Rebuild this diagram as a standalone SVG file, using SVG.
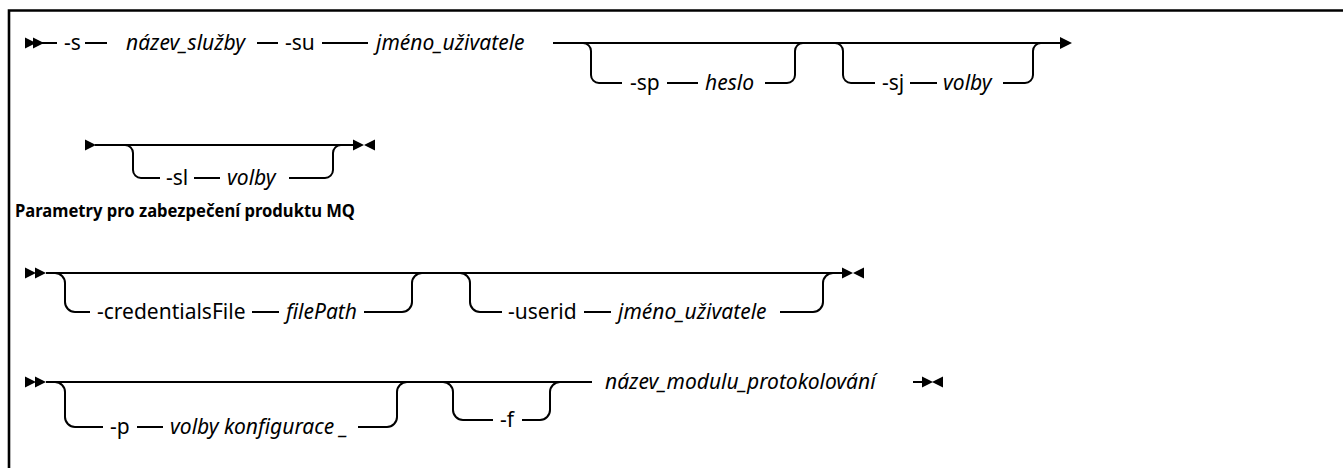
<svg xmlns="http://www.w3.org/2000/svg" width="1343" height="468" viewBox="0 0 1343 468">
<style>
.ln{stroke:#000;stroke-width:2;fill:none}
.bd{stroke:#000;stroke-width:2.6;fill:none}
.ah{fill:#000;stroke:none}
text{font-family:"Noto Sans","Liberation Sans",sans-serif;font-size:21px;fill:#000}
.i{font-style:italic}
.b{font-weight:bold;font-size:18px}
</style>
<defs>
<path id="tr" d="M0 -6 L12 0 L0 6 Z"/>
<path id="tl" d="M12 -6 L0 0 L12 6 Z"/>
<path id="ts" d="M0 -5.5 L11 0 L0 5.5 Z"/>
<path id="tsl" d="M11 -5.5 L0 0 L11 5.5 Z"/>
</defs>
<rect width="1343" height="468" fill="#fff"/>
<path class="bd" d="M9 468 V10.5 H1343"/>
<g id="connectors">
<!-- row 1 -->
<use href="#ts" class="ah" x="25" y="43"/>
<use href="#ts" class="ah" x="33" y="43"/>
<path class="ln" d="M42 43 H57 M85 43 H107 M257 43 H278 M322 43 H368 M553 43 H1060"/>
<path class="ln" d="M583 43 A8 8 0 0 1 591 51 V75 A8 8 0 0 0 599 83 H622 M667 83 H698 M765 83 H787 A8 8 0 0 0 795 75 V51 A8 8 0 0 1 803 43"/>
<path class="ln" d="M835 43 A8 8 0 0 1 843 51 V75 A8 8 0 0 0 851 83 H875 M910 83 H937 M1003 83 H1025 A8 8 0 0 0 1033 75 V51 A8 8 0 0 1 1041 43"/>
<use href="#tr" class="ah" x="1060" y="43"/>
<!-- row 2 -->
<use href="#ts" class="ah" x="85" y="145"/>
<path class="ln" d="M95 145 H353"/>
<path class="ln" d="M125 145 A8 8 0 0 1 133 153 V170 A8 8 0 0 0 141 178 H160 M194 178 H220 M289 178 H325 A8 8 0 0 0 333 170 V153 A8 8 0 0 1 341 145"/>
<use href="#ts" class="ah" x="353" y="145"/>
<use href="#tsl" class="ah" x="364" y="145"/>
<!-- row 3 -->
<use href="#ts" class="ah" x="25" y="273"/>
<use href="#ts" class="ah" x="35" y="273"/>
<path class="ln" d="M46 273 H842"/>
<path class="ln" d="M55 273 A10 10 0 0 1 65 283 V302 A10 10 0 0 0 75 312 H90 M252 312 H279 M364 312 H402 A10 10 0 0 0 412 302 V283 A10 10 0 0 1 422 273"/>
<path class="ln" d="M460 273 A10 10 0 0 1 470 283 V302 A10 10 0 0 0 480 312 H502 M584 312 H611 M780 312 H813 A10 10 0 0 0 823 302 V283 A10 10 0 0 1 833 273"/>
<use href="#ts" class="ah" x="842" y="273"/>
<use href="#tsl" class="ah" x="853" y="273"/>
<!-- row 4 -->
<use href="#ts" class="ah" x="25" y="382"/>
<use href="#ts" class="ah" x="35" y="382"/>
<path class="ln" d="M46 382 H592"/>
<path class="ln" d="M55 382 A10 10 0 0 1 65 392 V417 A10 10 0 0 0 75 427 H103 M137 427 H163 M358 427 H387 A10 10 0 0 0 397 417 V392 A10 10 0 0 1 407 382"/>
<path class="ln" d="M443 382 A10 10 0 0 1 453 392 V410 A10 10 0 0 0 463 420 H493 M522 420 H540 A10 10 0 0 0 550 410 V392 A10 10 0 0 1 560 382"/>
<path class="ln" d="M913 382 H922"/>
<use href="#ts" class="ah" x="922" y="382"/>
<use href="#tsl" class="ah" x="932" y="382"/>
</g>
<g id="n-s"><text x="64" y="50">-s</text></g>
<g id="n-nazev-sluzby"><text class="i" x="126" y="50">název_služby</text></g>
<g id="n-su"><text x="285" y="50">-su</text></g>
<g id="n-jmeno1"><text class="i" x="376" y="50">jméno_uživatele</text></g>
<g id="n-sp"><text x="630" y="90">-sp</text></g>
<g id="n-heslo"><text class="i" x="705" y="90">heslo</text></g>
<g id="n-sj"><text x="882" y="90">-sj</text></g>
<g id="n-volby1"><text class="i" x="943" y="90">volby</text></g>
<g id="n-sl"><text x="166" y="185">-sl</text></g>
<g id="n-volby2"><text class="i" x="227" y="185">volby</text></g>
<g id="title"><text class="b" x="15" y="217" textLength="340" lengthAdjust="spacingAndGlyphs">Parametry pro zabezpečení produktu MQ</text></g>
<g id="n-credentialsFile"><text x="97" y="319">-credentialsFile</text></g>
<g id="n-filePath"><text class="i" x="286" y="319">filePath</text></g>
<g id="n-userid"><text x="508" y="319">-userid</text></g>
<g id="n-jmeno2"><text class="i" x="618" y="319">jméno_uživatele</text></g>
<g id="n-p"><text x="110" y="434">-p</text></g>
<g id="n-volby-konfigurace"><text class="i" x="170" y="434">volby konfigurace _</text></g>
<g id="n-f"><text x="500" y="427">-f</text></g>
<g id="n-nazev-modulu"><text class="i" x="605" y="389">název_modulu_protokolování</text></g>
</svg>
